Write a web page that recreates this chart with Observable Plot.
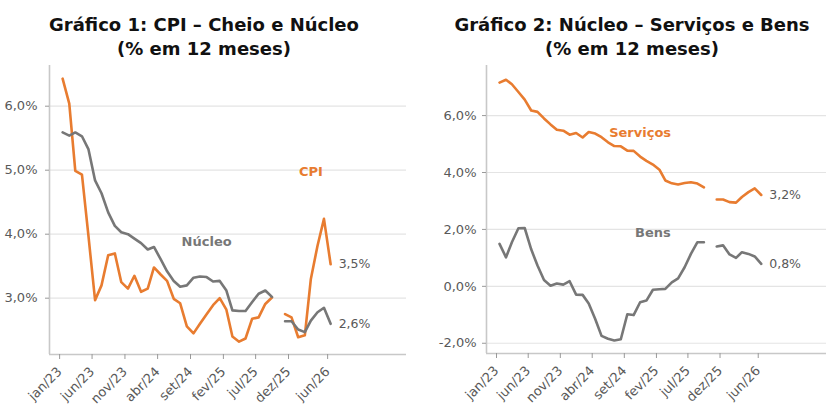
<!DOCTYPE html>
<html>
<head>
<meta charset="utf-8">
<script src="https://cdn.jsdelivr.net/npm/d3@7"></script>
<script src="https://cdn.jsdelivr.net/npm/@observablehq/plot@0.6"></script>
<style>
  html, body { margin: 0; padding: 0; background: #fff; }
  #wrap { position: relative; width: 840px; height: 420px; overflow: hidden; }
  .title { position: absolute; text-align: center; font-family: "DejaVu Sans", sans-serif; font-weight: 700; font-size: 18px; line-height: 21px; color: #111; }
  .chart { position: absolute; top: 60px; }
  .chart svg { font-family: "DejaVu Sans", sans-serif !important; }
</style>
</head>
<body>
<div id="wrap">
  <div class="title" style="left:0;width:408px;top:14px;">Gráfico 1: CPI – Cheio e Núcleo</div>
  <div class="title" style="left:0;width:408px;top:38px;">(% em 12 meses)</div>
  <div class="title" style="left:420px;width:424px;top:14px;">Gráfico 2: Núcleo – Serviços e Bens</div>
  <div class="title" style="left:420px;width:424px;top:38px;">(% em 12 meses)</div>
  <div class="chart" id="c1" style="left:0;"></div>
  <div class="chart" id="c2" style="left:420px;"></div>
</div>
<script>
// ---- Data ----
const months = [
  "2023-01","2023-02","2023-03","2023-04","2023-05","2023-06","2023-07","2023-08","2023-09","2023-10","2023-11","2023-12",
  "2024-01","2024-02","2024-03","2024-04","2024-05","2024-06","2024-07","2024-08","2024-09","2024-10","2024-11","2024-12",
  "2025-01","2025-02","2025-03","2025-04","2025-05","2025-06","2025-07","2025-08","2025-09","2025-10","2025-11","2025-12",
  "2026-01","2026-02","2026-03","2026-04","2026-05","2026-06"
];
const cpi = [6.43,6.04,4.99,4.93,3.98,2.97,3.20,3.67,3.70,3.25,3.15,3.35,
  3.10,3.15,3.48,3.37,3.27,2.99,2.92,2.56,2.45,2.60,2.75,2.89,
  3.00,2.82,2.40,2.32,2.37,2.68,2.70,2.91,3.01,null,2.75,2.70,
  2.39,2.42,3.30,3.82,4.24,3.53];
const nucleo = [5.59,5.54,5.59,5.53,5.33,4.84,4.64,4.34,4.13,4.03,4.00,3.93,
  3.86,3.76,3.80,3.61,3.42,3.27,3.18,3.20,3.32,3.34,3.33,3.26,
  3.27,3.12,2.81,2.80,2.80,2.94,3.07,3.12,3.02,null,2.64,2.64,
  2.51,2.47,2.65,2.78,2.85,2.60];
const servicos = [7.16,7.26,7.10,6.83,6.56,6.18,6.13,5.90,5.69,5.50,5.47,5.33,
  5.39,5.23,5.42,5.37,5.24,5.06,4.93,4.92,4.77,4.76,4.56,4.41,
  4.28,4.10,3.72,3.62,3.58,3.63,3.66,3.61,3.48,null,3.05,3.05,
  2.96,2.94,3.14,3.31,3.44,3.21];
const bens = [1.49,1.02,1.55,2.04,2.05,1.30,0.73,0.22,0.02,0.10,0.06,0.18,
  -0.29,-0.30,-0.60,-1.15,-1.74,-1.84,-1.90,-1.86,-0.98,-1.01,-0.56,-0.50,
  -0.12,-0.10,-0.09,0.14,0.28,0.67,1.14,1.55,1.55,null,1.40,1.44,
  1.12,1.00,1.20,1.14,1.05,0.79];
const tickMonths = ["2023-01","2023-06","2023-11","2024-04","2024-09","2025-02","2025-07","2025-12","2026-06"];
const tickLabels = ["jan/23","jun/23","nov/23","abr/24","set/24","fev/25","jul/25","dez/25","jun/26"];
const yTicks1 = [3, 4, 5, 6];
const yTicks2 = [-2, 0, 2, 4, 6];

// ---- Helpers ----
const ORANGE = "#E87C30";
const GREY = "#777777";
const TXT = "#595959";
const FONT = "DejaVu Sans, sans-serif";
const toDate = s => new Date(Date.UTC(+s.slice(0,4), +s.slice(5,7) - 1, 1));
const dates = months.map(toDate);
const tickDates = tickMonths.map(toDate);
const labelOf = new Map(tickDates.map((d, i) => [+d, tickLabels[i]]));
const pct = v => v.toFixed(1).replace(".", ",") + "%";
const series = (vals) => dates.map((d, i) => ({date: d, v: vals[i]}));
const lastOf = (vals) => [{date: dates[dates.length - 1], v: vals[vals.length - 1]}];

function makeChart({s1, s2, c1, c2, name1, name2, pos1, pos2, xDomain, yDomain, yTicks, marginLeft, marginBottom, tickPadding}) {
  const d1 = series(s1), d2 = series(s2);
  return Plot.plot({
    width: 420,
    height: 360,
    marginLeft,
    marginRight: 14,
    marginTop: 5,
    marginBottom,
    style: {fontFamily: FONT, fontSize: "13px", color: TXT, background: "transparent"},
    x: {type: "utc", domain: xDomain},
    y: {domain: yDomain},
    marks: [
      Plot.gridY(yTicks, {stroke: "#e4e4e4", strokeOpacity: 1, strokeWidth: 1.2}),
      Plot.ruleY([yDomain[0]], {stroke: "#c8c8c8", strokeWidth: 1.6}),
      Plot.ruleX([xDomain[0]], {stroke: "#c8c8c8", strokeWidth: 1.6}),
      Plot.axisY({ticks: yTicks, tickFormat: pct, label: null, tickSize: 4, tickPadding, stroke: "#999", fill: TXT, fontSize: 13, fontFamily: FONT}),
      Plot.axisX({ticks: tickDates, tickFormat: d => labelOf.get(+d), label: null, tickRotate: -45, tickSize: 5, tickPadding: 10, dx: -3, stroke: "#999", fill: TXT, fontSize: 13, fontFamily: FONT}),
      Plot.line(d1, {x: "date", y: "v", stroke: c1, strokeWidth: 2.6, strokeLinejoin: "round"}),
      Plot.line(d2, {x: "date", y: "v", stroke: c2, strokeWidth: 2.6, strokeLinejoin: "round"}),
      Plot.text(lastOf(s1), {x: "date", y: "v", text: d => pct(d.v), dx: 8, textAnchor: "start", fill: TXT, fontSize: 12.5, fontFamily: FONT}),
      Plot.text(lastOf(s2), {x: "date", y: "v", text: d => pct(d.v), dx: 8, textAnchor: "start", fill: TXT, fontSize: 12.5, fontFamily: FONT}),
      Plot.text([pos1], {x: "date", y: "v", text: () => name1, fill: c1, fontWeight: "bold", fontSize: 13, fontFamily: FONT}),
      Plot.text([pos2], {x: "date", y: "v", text: () => name2, fill: c2, fontWeight: "bold", fontSize: 13, fontFamily: FONT})
    ]
  });
}

document.getElementById("c1").append(makeChart({
  s1: cpi, s2: nucleo, c1: ORANGE, c2: GREY, name1: "CPI", name2: "Núcleo",
  pos1: {date: toDate("2026-03"), v: 4.97}, pos2: {date: toDate("2024-11"), v: 3.875},
  xDomain: [new Date(Date.UTC(2022, 10, 1)), new Date(Date.UTC(2027, 4, 20))],
  yDomain: [2.12, 6.636], yTicks: yTicks1, marginLeft: 49, marginBottom: 66, tickPadding: 8
}));
document.getElementById("c2").append(makeChart({
  s1: servicos, s2: bens, c1: ORANGE, c2: GREY, name1: "Serviços", name2: "Bens",
  pos1: {date: toDate("2024-11"), v: 5.38}, pos2: {date: toDate("2025-01"), v: 1.87},
  xDomain: [new Date(Date.UTC(2022, 9, 31)), new Date(Date.UTC(2027, 3, 8))],
  yDomain: [-2.36, 7.76], yTicks: yTicks2, marginLeft: 66, marginBottom: 67, tickPadding: 6
}));
</script>
</body>
</html>
